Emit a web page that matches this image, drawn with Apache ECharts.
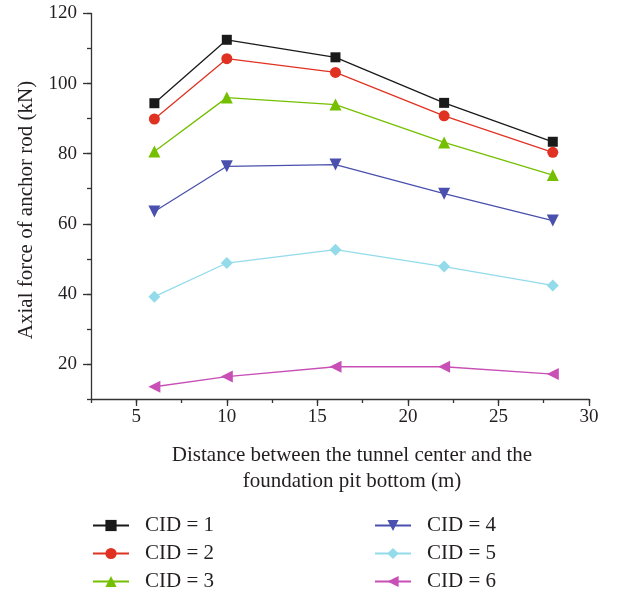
<!DOCTYPE html>
<html><head><meta charset="utf-8">
<script src="https://cdn.jsdelivr.net/npm/echarts@6/dist/echarts.min.js"></script>
<style>html,body{margin:0;padding:0;background:#fff}#c{width:630px;height:594px}</style>
</head><body><div id="c"></div>
<script>
const distances = [6, 10, 16, 22, 28];
const cid1 = [94.4, 112.5, 107.5, 94.5, 83.4];
const cid2 = [89.9, 107.1, 103.2, 90.8, 80.4];
const cid3 = [80.6, 96.0, 94.0, 83.2, 73.9];
const cid4 = [63.5, 76.4, 76.9, 68.6, 60.9];
const cid5 = [39.2, 48.8, 52.6, 47.8, 42.4];
const cid6 = [13.5, 16.4, 19.2, 19.2, 17.1];
const seriesNames = ['CID = 1','CID = 2','CID = 3','CID = 4','CID = 5','CID = 6'];
const xMajorTicks = [5, 10, 15, 20, 25, 30];
const yMajorTicks = [20, 40, 60, 80, 100, 120];

const FONT = '"Liberation Serif", "Times New Roman", serif';
const TXT = '#231f20';
const AX = '#333333';
const colors = ['#1a1a1a', '#e03222', '#74c000', '#4a50ad', '#93dbea', '#c84fb6'];
const symbols = ['rect', 'circle', 'triangle', 'triangle', 'diamond', 'triangle'];
const rotates = [0, 0, 0, 180, 0, 90];
const sizes = [10, 11, 12, 12, 12, 12];
const all = [cid1, cid2, cid3, cid4, cid5, cid6];

const chart = echarts.init(document.getElementById('c'), null, {renderer: 'canvas'});
const grid = {left: 91, right: 41, top: 13.5, bottom: 195};
const axisLine = {show: true, onZero: false, lineStyle: {color: AX, width: 1.3}};
const series = all.map((vals, i) => ({
  name: seriesNames[i], type: 'line', xAxisIndex: 0, yAxisIndex: 0,
  data: distances.map((d, j) => [d, vals[j]]),
  symbol: symbols[i], symbolRotate: rotates[i], symbolSize: sizes[i],
  lineStyle: {color: colors[i], width: 1.3},
  itemStyle: {color: colors[i]},
  emphasis: {disabled: true}, animation: false, z: 3
}));
const legendBase = {
  orient: 'vertical', itemWidth: 36, itemHeight: 14, itemGap: 7, padding: 0, height: 90,
  textStyle: {fontFamily: FONT, fontSize: 21, color: TXT, lineHeight: 21, padding: [0, 0, 0, 11]},
  selectedMode: false
};
chart.setOption({
  animation: false,
  grid: grid,
  xAxis: [{
    type: 'value', min: 2.5, max: 30, interval: 2.5,
    axisLine: axisLine,
    axisTick: {show: true, length: 4, lineStyle: {color: AX, width: 1.3}},
    axisLabel: {customValues: xMajorTicks, fontFamily: FONT, fontSize: 19, color: TXT, margin: 9},
    splitLine: {show: false}
  }, {
    type: 'value', min: 2.5, max: 30, position: 'bottom', gridIndex: 0,
    axisLine: {show: false},
    axisTick: {show: true, length: 7, customValues: xMajorTicks, lineStyle: {color: AX, width: 1.3}},
    axisLabel: {show: false}, splitLine: {show: false}
  }],
  yAxis: [{
    type: 'value', min: 10, max: 120, interval: 10,
    axisLine: axisLine,
    axisTick: {show: true, length: 4, lineStyle: {color: AX, width: 1.3}},
    axisLabel: {customValues: yMajorTicks, fontFamily: FONT, fontSize: 19, color: TXT, margin: 14},
    splitLine: {show: false}
  }, {
    type: 'value', min: 10, max: 120, position: 'left', gridIndex: 0,
    axisLine: {show: false},
    axisTick: {show: true, length: 8, customValues: yMajorTicks, lineStyle: {color: AX, width: 1.3}},
    axisLabel: {show: false}, splitLine: {show: false}
  }],
  legend: [
    Object.assign({}, legendBase, {left: 92, top: 515, data: seriesNames.slice(0, 3)}),
    Object.assign({}, legendBase, {left: 374, top: 515, data: seriesNames.slice(3)})
  ],
  graphic: [
    {type: 'text', x: 26, y: 210, rotation: Math.PI / 2,
     style: {text: 'Axial force of anchor rod (kN)', font: '21px ' + FONT, fill: TXT, align: 'center', verticalAlign: 'middle'}},
    {type: 'text', x: 352, y: 455,
     style: {text: 'Distance between the tunnel center and the', font: '21px ' + FONT, fill: TXT, align: 'center', verticalAlign: 'middle'}},
    {type: 'text', x: 352, y: 481,
     style: {text: 'foundation pit bottom (m)', font: '21px ' + FONT, fill: TXT, align: 'center', verticalAlign: 'middle'}}
  ],
  series: series
});
</script></body></html>
